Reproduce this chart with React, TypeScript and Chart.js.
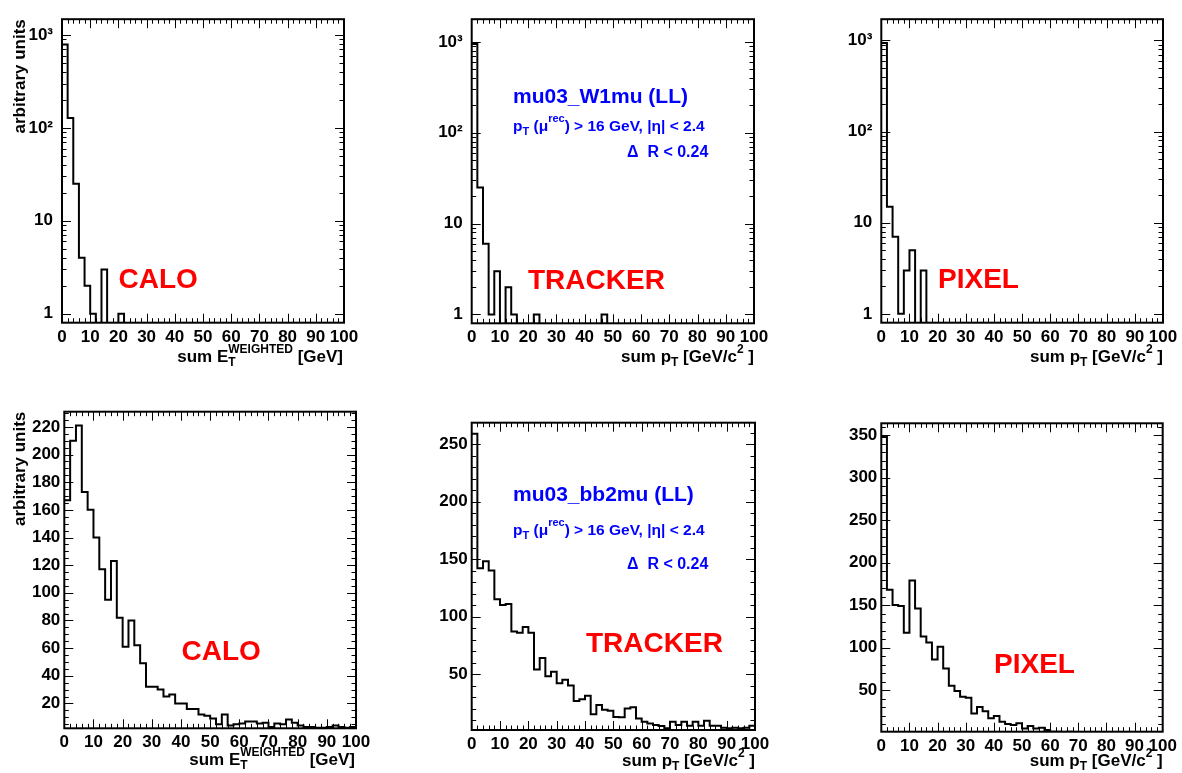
import React, { useEffect, useRef } from 'react';
import { Chart, registerables } from 'chart.js';

Chart.register(...registerables);

// ---------- data ----------
const binStarts = [0, 2, 4, 6, 8, 10, 12, 14, 16, 18, 20, 22, 24, 26, 28, 30, 32, 34, 36, 38, 40, 42, 44, 46, 48, 50, 52, 54, 56, 58, 60, 62, 64, 66, 68, 70, 72, 74, 76, 78, 80, 82, 84, 86, 88, 90, 92, 94, 96, 98];
const xUpperEdge = 100;
const xTickValues = [0, 10, 20, 30, 40, 50, 60, 70, 80, 90, 100];

const caloW1mu = [790, 128, 25, 4, 2, 1, 0, 3, 0, 0, 1, 0, 0, 0, 0, 0, 0, 0, 0, 0, 0, 0, 0, 0, 0, 0, 0, 0, 0, 0, 0, 0, 0, 0, 0, 0, 0, 0, 0, 0, 0, 0, 0, 0, 0, 0, 0, 0, 0, 0];
const trackerW1mu = [946, 25, 6, 1, 3, 0, 2, 1, 0, 0, 0, 1, 0, 0, 0, 0, 0, 0, 0, 0, 0, 0, 0, 1, 0, 0, 0, 0, 0, 0, 0, 0, 0, 0, 0, 0, 0, 0, 0, 0, 0, 0, 0, 0, 0, 0, 0, 0, 0, 0];
const pixelW1mu = [936, 15, 7, 1, 3, 5, 0, 3, 0, 0, 0, 0, 0, 0, 0, 0, 0, 0, 0, 0, 0, 0, 0, 0, 0, 0, 0, 0, 0, 0, 0, 0, 0, 0, 0, 0, 0, 0, 0, 0, 0, 0, 0, 0, 0, 0, 0, 0, 0, 0];

const caloBb2mu = [167, 210, 221, 173, 160, 140, 117, 95, 123, 82, 61, 80, 62, 49, 32, 32, 30, 25, 26.5, 20, 20, 16, 16, 12, 11, 9, 5, 12, 4, 5, 5.5, 7, 7, 5.5, 6, 3, 5.5, 5, 8.4, 6, 4, 3, 3, 2.4, 2.4, 3, 4, 3, 2.4, 3];
const trackerBb2mu = [259, 142, 148, 140, 115, 110, 111, 87, 86, 91, 86, 54, 64, 48, 52, 42, 45, 40, 26.5, 28, 31, 15, 23, 19, 18, 12.5, 12.3, 20, 21, 11.4, 8.5, 7, 5.7, 4.8, 2.8, 8.5, 5.7, 8.5, 5, 8.5, 5, 9.4, 5, 5, 3.3, 2.8, 3.3, 2.8, 3.3, 5];
const pixelBb2mu = [348, 168, 150, 149, 117.5, 179, 146, 113, 106, 86, 101, 75.5, 55, 49, 42, 41, 22.5, 30, 25, 16.7, 19.4, 12.7, 10, 8.8, 11, 4.9, 7.6, 4.9, 5.7, 3, 1, 1, 0, 1, 0, 0, 0, 0, 0, 0, 0, 0, 0, 0, 0, 0, 0, 0, 0, 0];

const logTickValues = [1, 10, 100, 1000];
const logTickLabels = ['1', '10', '10²', '10³'];
const caloBb2muTicks = [20, 40, 60, 80, 100, 120, 140, 160, 180, 200, 220];
const trackerBb2muTicks = [50, 100, 150, 200, 250];
const pixelBb2muTicks = [50, 100, 150, 200, 250, 300, 350];

// ---------- styling / layout ----------
const FONT = '"Liberation Sans", Arial, Helvetica, sans-serif';
const RED = '#ff0000';
const BLUE = '#0000ff';

type Seg = { t: string; sub?: string; sup?: string };
type Box = { x: number; y: number; w: number; h: number };
type Frame = { l: number; t: number; r: number; b: number };
type InfoLine = { segs: Seg[]; x: number; y: number; size: number; small: number };

interface PanelDef {
  c: Box;
  f: Frame;
  values: number[];
  log: boolean;
  yMin: number;
  yMax: number;
  yTicks: number[];
  yLabels?: string[];
  yMinorStep?: number;
  yMajorEvery?: number;
  yLabelPad: number;
  yTitle: boolean;
  xTitle: Seg[];
  xTitleRight: number;
  xTitleBase: number;
  tag: { text: string; x: number; y: number };
  info?: InfoLine[];
}

const xTitleCalo: Seg[] = [{ t: 'sum E', sub: 'T', sup: 'WEIGHTED' }, { t: ' [GeV]' }];
const xTitlePt: Seg[] = [{ t: 'sum p', sub: 'T' }, { t: ' [GeV/c', sup: '2' }, { t: ' ]' }];

function infoLines(name: string, x: number, y1: number, y2: number, y3: number): InfoLine[] {
  return [
    { segs: [{ t: name }], x, y: y1, size: 21, small: 14 },
    { segs: [{ t: 'p', sub: 'T' }, { t: ' (μ', sup: 'rec' }, { t: ') > 16 GeV, |η| < 2.4' }], x, y: y2, size: 15.5, small: 11 },
    { segs: [{ t: 'Δ  R < 0.24' }], x: x + 114, y: y3, size: 16, small: 10 },
  ];
}

const panels: PanelDef[] = [
  {
    c: { x: 0, y: 0, w: 410, h: 386 }, f: { l: 62, t: 15, r: 344, b: 322.7 },
    values: caloW1mu, log: true, yMin: 0.8, yMax: 1480, yTicks: logTickValues, yLabels: logTickLabels, yLabelPad: 9,
    yTitle: true, xTitle: xTitleCalo, xTitleRight: 343, xTitleBase: 362,
    tag: { text: 'CALO', x: 118.5, y: 288 },
  },
  {
    c: { x: 410, y: 0, w: 410, h: 386 }, f: { l: 471.7, t: 16.7, r: 754, b: 323.3 },
    values: trackerW1mu, log: true, yMin: 0.8, yMax: 1775, yTicks: logTickValues, yLabels: logTickLabels, yLabelPad: 9,
    yTitle: false, xTitle: xTitlePt, xTitleRight: 754, xTitleBase: 362,
    tag: { text: 'TRACKER', x: 528, y: 289 },
    info: infoLines('mu03_W1mu (LL)', 513, 103, 131, 157),
  },
  {
    c: { x: 820, y: 0, w: 362, h: 386 }, f: { l: 881.3, t: 13.3, r: 1163, b: 322.7 },
    values: pixelW1mu, log: true, yMin: 0.8, yMax: 1711, yTicks: logTickValues, yLabels: logTickLabels, yLabelPad: 9,
    yTitle: false, xTitle: xTitlePt, xTitleRight: 1163, xTitleBase: 362,
    tag: { text: 'PIXEL', x: 938, y: 288 },
  },
  {
    c: { x: 0, y: 386, w: 410, h: 387 }, f: { l: 64.3, t: 411.7, r: 356, b: 728.3 },
    values: caloBb2mu, log: false, yMin: 2, yMax: 231, yTicks: caloBb2muTicks, yMinorStep: 5, yMajorEvery: 4, yLabelPad: 4,
    yTitle: true, xTitle: xTitleCalo, xTitleRight: 355, xTitleBase: 765,
    tag: { text: 'CALO', x: 181.5, y: 660 },
  },
  {
    c: { x: 410, y: 386, w: 410, h: 387 }, f: { l: 471.7, t: 422.7, r: 755, b: 730 },
    values: trackerBb2mu, log: false, yMin: 1.3, yMax: 268.6, yTicks: trackerBb2muTicks, yMinorStep: 10, yMajorEvery: 5, yLabelPad: 4,
    yTitle: false, xTitle: xTitlePt, xTitleRight: 755, xTitleBase: 766,
    tag: { text: 'TRACKER', x: 586, y: 651.5 },
    info: infoLines('mu03_bb2mu (LL)', 513, 501, 535, 569),
  },
  {
    c: { x: 820, y: 386, w: 362, h: 387 }, f: { l: 881.3, t: 423.3, r: 1162.7, b: 731.7 },
    values: pixelBb2mu, log: false, yMin: 1, yMax: 364, yTicks: pixelBb2muTicks, yMinorStep: 10, yMajorEvery: 5, yLabelPad: 4,
    yTitle: false, xTitle: xTitlePt, xTitleRight: 1162.7, xTitleBase: 766,
    tag: { text: 'PIXEL', x: 994, y: 672.5 },
  },
];

// ---------- text helpers ----------
function richWidth(ctx: CanvasRenderingContext2D, segs: Seg[], size: number, small: number) {
  let w = 0;
  for (const s of segs) {
    ctx.font = `bold ${size}px ${FONT}`;
    w += ctx.measureText(s.t).width;
    if (s.sub || s.sup) {
      ctx.font = `bold ${small}px ${FONT}`;
      w += Math.max(s.sub ? ctx.measureText(s.sub).width : 0, s.sup ? ctx.measureText(s.sup).width : 0);
    }
  }
  return w;
}

function drawRich(ctx: CanvasRenderingContext2D, segs: Seg[], x: number, y: number, size: number, small: number, color: string, align: 'left' | 'right') {
  ctx.save();
  ctx.fillStyle = color;
  ctx.textAlign = 'left';
  ctx.textBaseline = 'alphabetic';
  let cx = align === 'right' ? x - richWidth(ctx, segs, size, small) : x;
  for (const s of segs) {
    ctx.font = `bold ${size}px ${FONT}`;
    ctx.fillText(s.t, cx, y);
    cx += ctx.measureText(s.t).width;
    if (s.sub || s.sup) {
      ctx.font = `bold ${small}px ${FONT}`;
      let adv = 0;
      if (s.sub) { ctx.fillText(s.sub, cx, y + size * 0.25); adv = Math.max(adv, ctx.measureText(s.sub).width); }
      if (s.sup) { ctx.fillText(s.sup, cx, y - size * 0.55); adv = Math.max(adv, ctx.measureText(s.sup).width); }
      cx += adv;
    }
  }
  ctx.restore();
}

// ---------- decoration plugin (ROOT-like frame, ticks, texts) ----------
function makeDecor(p: PanelDef) {
  return {
    id: 'rootDecor',
    afterDraw(chart: any) {
      const ctx: CanvasRenderingContext2D = chart.ctx;
      const a = chart.chartArea;
      const xs = chart.scales.x;
      const ys = chart.scales.y;
      const ox = p.c.x;
      const oy = p.c.y;
      ctx.save();
      ctx.strokeStyle = '#000';
      ctx.lineWidth = 1;
      ctx.beginPath();
      for (let k = 1; k < 50; k++) {
        const px = Math.round(xs.getPixelForValue(k * 2)) + 0.5;
        const len = k % 5 === 0 ? 9 : 4.5;
        ctx.moveTo(px, a.bottom); ctx.lineTo(px, a.bottom - len);
        ctx.moveTo(px, a.top); ctx.lineTo(px, a.top + len);
      }
      const yTickMarks: { v: number; major: boolean }[] = [];
      if (p.log) {
        for (let d = 0; d <= 3; d++) {
          for (let m = 1; m <= 9; m++) {
            const v = m * Math.pow(10, d);
            if (v >= p.yMin && v <= p.yMax) yTickMarks.push({ v, major: m === 1 });
          }
        }
      } else {
        const step = p.yMinorStep || 10;
        const every = p.yMajorEvery || 5;
        for (let k = 1; k * step <= p.yMax; k++) {
          const v = k * step;
          if (v >= p.yMin) yTickMarks.push({ v, major: k % every === 0 });
        }
      }
      for (const t of yTickMarks) {
        const py = Math.round(ys.getPixelForValue(t.v)) + 0.5;
        const len = t.major ? 9 : 4.5;
        ctx.moveTo(a.left, py); ctx.lineTo(a.left + len, py);
        ctx.moveTo(a.right, py); ctx.lineTo(a.right - len, py);
      }
      ctx.stroke();
      ctx.lineWidth = 2;
      ctx.strokeRect(a.left, a.top, a.right - a.left, a.bottom - a.top);
      ctx.restore();

      if (p.yTitle) {
        ctx.save();
        ctx.translate(25 - ox, a.top);
        ctx.rotate(-Math.PI / 2);
        ctx.font = `bold 17px ${FONT}`;
        ctx.fillStyle = '#000';
        ctx.textAlign = 'right';
        ctx.textBaseline = 'alphabetic';
        ctx.fillText('arbitrary units', 0, 0);
        ctx.restore();
      }
      drawRich(ctx, p.xTitle, p.xTitleRight - ox, p.xTitleBase - oy, 17, 12, '#000', 'right');
      ctx.save();
      ctx.font = `bold 28px ${FONT}`;
      ctx.fillStyle = RED;
      ctx.textAlign = 'left';
      ctx.textBaseline = 'alphabetic';
      ctx.fillText(p.tag.text, p.tag.x - ox, p.tag.y - oy);
      ctx.restore();
      if (p.info) {
        for (const line of p.info) {
          drawRich(ctx, line.segs, line.x - ox, line.y - oy, line.size, line.small, BLUE, 'left');
        }
      }
    },
  };
}

function buildConfig(p: PanelDef): any {
  const shown = (v: number) => (v > 0 ? v : p.yMin * 0.5);
  const points = binStarts.map((x, i) => ({ x, y: shown(p.values[i]) }));
  points.push({ x: xUpperEdge, y: shown(p.values[p.values.length - 1]) });
  const tickFont = { family: FONT, size: 17, weight: 'bold' as const };
  return {
    type: 'line',
    data: {
      datasets: [
        {
          data: points,
          borderColor: '#000',
          borderWidth: 2,
          pointRadius: 0,
          fill: false,
          stepped: 'before',
          tension: 0,
          spanGaps: false,
        },
      ],
    },
    options: {
      animation: false,
      responsive: false,
      maintainAspectRatio: false,
      events: [],
      layout: { padding: { left: 0, top: p.f.t - p.c.y, right: p.c.x + p.c.w - p.f.r, bottom: 0 } },
      plugins: { legend: { display: false }, tooltip: { enabled: false }, title: { display: false } },
      scales: {
        x: {
          type: 'linear',
          min: 0,
          max: xUpperEdge,
          grid: { display: false, drawTicks: false },
          border: { display: false },
          afterFit: (s: any) => { s.height = p.c.y + p.c.h - p.f.b; },
          afterBuildTicks: (s: any) => { s.ticks = xTickValues.map((v) => ({ value: v })); },
          ticks: {
            font: tickFont, color: '#000', padding: 4, maxRotation: 0, minRotation: 0, autoSkip: false,
            callback: (v: any) => String(v),
          },
        },
        y: {
          type: p.log ? 'logarithmic' : 'linear',
          min: p.yMin,
          max: p.yMax,
          grid: { display: false, drawTicks: false },
          border: { display: false },
          afterFit: (s: any) => { s.width = p.f.l - p.c.x; },
          afterBuildTicks: (s: any) => { s.ticks = p.yTicks.map((v) => ({ value: v })); },
          ticks: {
            font: tickFont, color: '#000', padding: p.yLabelPad, autoSkip: false,
            callback: (v: any, i: number) => (p.yLabels ? p.yLabels[i] : String(v)),
          },
        },
      },
    },
    plugins: [makeDecor(p)],
  };
}

function PanelChart({ p }: { p: PanelDef }) {
  const ref = useRef<HTMLCanvasElement>(null);
  useEffect(() => {
    if (!ref.current) return;
    const chart = new Chart(ref.current, buildConfig(p));
    return () => chart.destroy();
  }, [p]);
  return (
    <canvas
      ref={ref}
      width={p.c.w}
      height={p.c.h}
      style={{ position: 'absolute', left: p.c.x, top: p.c.y, width: p.c.w, height: p.c.h }}
    />
  );
}

export default function App() {
  return (
    <div style={{ position: 'absolute', left: 0, top: 0, width: 1182, height: 773, background: '#fff', overflow: 'hidden' }}>
      {panels.map((p, i) => (
        <PanelChart key={i} p={p} />
      ))}
    </div>
  );
}
